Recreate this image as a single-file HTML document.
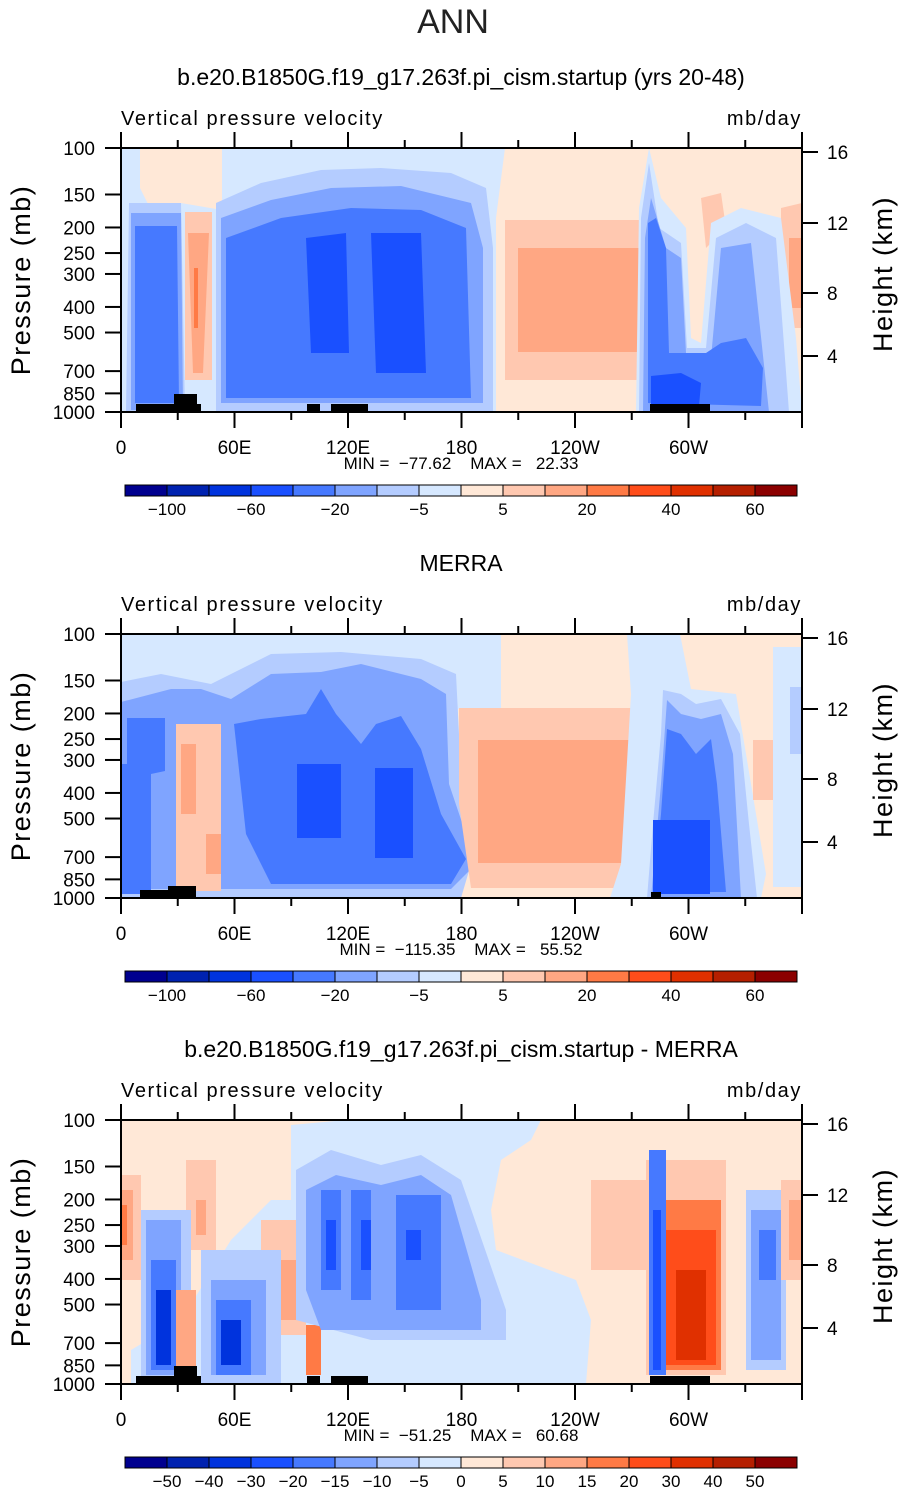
<!DOCTYPE html>
<html><head><meta charset="utf-8"><style>
body{margin:0;background:#fff;}
svg{display:block;font-family:"Liberation Sans","DejaVu Sans",sans-serif;}
</style></head><body>
<svg id="root" width="905" height="1493" viewBox="0 0 905 1493" xmlns="http://www.w3.org/2000/svg">
<text x="453" y="33" font-size="34" text-anchor="middle" fill="#222" font-weight="300">ANN</text>
<g id="panels"></g>
</svg>
<script>
const pressureTicks=[100,150,200,250,300,400,500,700,850,1000];
const heightTicks=[16,12,8,4];
const heightTickY=[4,75,145,208];
const lonTicks=[0,60,120,180,240,300];
const lonLabels=["0","60E","120E","180","120W","60W"];
const colors=["#00008f","#0022b0","#0033dd","#1a50ff","#4679ff","#7fa4ff","#b4ccff","#d6e8ff","#ffe8d7","#ffc8b0","#ffa783","#ff7a45","#ff4d1a","#e03000","#b51f00","#8b0000"];
const levels12=["-100","-60","-20","-5","5","20","40","60"];
const levels3=["-50","-40","-30","-20","-15","-10","-5","0","5","10","15","20","30","40","50"];
const panelTitles=["b.e20.B1850G.f19_g17.263f.pi_cism.startup (yrs 20-48)","MERRA","b.e20.B1850G.f19_g17.263f.pi_cism.startup - MERRA"];
const minVals=["-77.62","-115.35","-51.25"];
const maxVals=["22.33","55.52","60.68"];
const panelTops=[148,634,1120];
const W=681,H=264,X0=121;
const NS="http://www.w3.org/2000/svg";
function xLon(l){return X0+l*W/360;}
function yP(p,top){return top+H*Math.log10(p/100);}
function el(t,a,parent,txt){const e=document.createElementNS(NS,t);for(const k in a)e.setAttribute(k,a[k]);if(txt!==undefined)e.textContent=txt;parent.appendChild(e);return e;}
const C={lb:"#d6e8ff",b1:"#b4ccff",b2:"#7fa4ff",b3:"#4679ff",b4:"#1a50ff",b5:"#0033dd",b6:"#0022b0",pe:"#ffe8d7",s1:"#ffc8b0",s2:"#ffa783",s3:"#ff7a45",s4:"#ff4d1a",s5:"#e03000",s6:"#b51f00",k:"#000"};
function R(c,x1,y1,x2,y2){return [c,[[x1,y1],[x2,y1],[x2,y2],[x1,y2]]];}
const land1=[R("k",15,256,80,264),R("k",53,246,76,264),R("k",186,256,199,264),R("k",210,256,247,264),R("k",529,256,589,264)];
const shapes1=[
["pe",[[19,0],[101,0],[101,62],[60,55],[30,62],[19,40]]],
["pe",[[384,0],[681,0],[681,264],[375,264],[375,70]]],
["b1",[[8,55],[60,55],[64,264],[5,264]]],
["b2",[[10,65],[60,65],[62,262],[10,262]]],
["b3",[[14,78],[56,78],[58,255],[14,255]]],
["s1",[[64,64],[91,64],[91,232],[64,232]]],
["s2",[[67,85],[88,85],[82,225],[72,225]]],
["s3",[[73,120],[77,120],[77,180],[73,180]]],
["b1",[[95,55],[140,35],[200,22],[260,20],[330,25],[365,40],[372,100],[372,264],[95,264]]],
["b2",[[100,70],[150,52],[210,40],[280,38],[350,55],[362,100],[362,255],[100,255]]],
["b3",[[105,90],[160,70],[230,60],[300,62],[345,80],[350,250],[105,250]]],
["b4",[[185,90],[225,85],[228,205],[190,205]]],
["b4",[[250,85],[300,85],[305,225],[255,225]]],
["s1",[[384,72],[524,72],[524,232],[384,232]]],
["s2",[[397,100],[519,100],[519,204],[397,204]]],
["s1",[[660,60],[681,55],[681,180],[660,180]]],
["s2",[[668,90],[681,90],[681,160],[668,160]]],
["s1",[[580,50],[600,45],[605,80],[585,100]]],
["lb",[[515,264],[518,60],[528,0],[540,50],[565,80],[570,190],[580,195],[590,75],[620,60],[660,70],[675,190],[681,264]]],
["b1",[[518,264],[520,70],[528,15],[538,80],[560,95],[566,200],[585,200],[595,90],[625,75],[655,90],[668,264]]],
["b2",[[522,264],[524,90],[530,50],[545,100],[560,110],[565,205],[590,210],[600,100],[630,95],[648,264]]],
["b3",[[527,255],[527,75],[535,70],[545,100],[548,205],[585,205],[600,195],[625,190],[642,220],[640,258]]],
["b4",[[530,228],[560,225],[580,235],[578,258],[530,258]]],
...land1];
const shapes2=[
["pe",[[380,0],[526,0],[526,264],[337,264],[337,75],[380,75]]],
["pe",[[559,0],[681,0],[681,264],[489,264]]],
["b1",[[0,48],[40,40],[90,50],[150,20],[220,18],[300,25],[335,40],[338,100],[350,230],[340,264],[0,264]]],
["b2",[[0,68],[50,55],[80,55],[110,65],[150,40],[200,38],[240,30],[300,45],[325,60],[328,150],[355,230],[330,255],[0,255]]],
["b3",[[6,84],[44,84],[44,137],[30,140],[30,260],[0,260],[0,130],[6,130]]],
["b3",[[113,90],[140,85],[185,80],[200,55],[215,80],[240,110],[255,90],[280,82],[300,115],[320,180],[345,225],[330,250],[150,250],[125,200]]],
["b4",[[176,130],[220,130],[220,204],[176,204]]],
["b4",[[254,134],[292,134],[292,224],[254,224]]],
["s1",[[338,74],[526,74],[526,254],[350,254],[338,170]]],
["s2",[[357,106],[519,106],[519,229],[357,229]]],
["s1",[[55,90],[100,90],[100,257],[55,257]]],
["s2",[[60,110],[75,110],[75,180],[60,180]]],
["s2",[[85,200],[100,200],[100,240],[85,240]]],
["lb",[[506,0],[559,0],[570,55],[615,60],[630,150],[645,240],[640,264],[489,264],[500,230],[510,60]]],
["b1",[[542,56],[560,60],[575,70],[600,65],[619,100],[628,190],[636,264],[526,264],[532,190],[540,100]]],
["b2",[[546,66],[560,80],[580,85],[600,80],[612,120],[620,264],[530,264],[540,150]]],
["b3",[[546,95],[560,100],[575,120],[590,105],[596,150],[605,258],[532,258],[540,180]]],
["b4",[[532,186],[589,186],[589,260],[532,260]]],
["lb",[[652,13],[681,13],[681,253],[652,253]]],
["b1",[[669,53],[681,53],[681,120],[669,120]]],
["s1",[[632,106],[652,106],[652,166],[632,166]]],
R("k",19,256,75,264),R("k",47,252,75,264),R("k",530,258,540,264)];
const shapes3=[
["lb",[[170,5],[225,0],[420,0],[410,20],[380,40],[370,90],[375,130],[455,160],[470,200],[465,264],[10,264],[10,230],[60,200],[110,120],[150,80],[170,80]]],
["s1",[[0,55],[20,55],[20,160],[0,160]]],
["s2",[[0,70],[12,70],[12,140],[0,140]]],
["s3",[[0,85],[6,85],[6,125],[0,125]]],
["s1",[[65,40],[95,40],[95,130],[65,130]]],
["s2",[[75,80],[85,80],[85,115],[75,115]]],
["s1",[[140,100],[185,100],[185,215],[140,215]]],
["s2",[[155,140],[175,140],[175,200],[155,200]]],
["s3",[[185,205],[200,205],[200,255],[185,255]]],
["s1",[[470,60],[525,60],[525,150],[470,150]]],
["b1",[[20,90],[70,90],[70,264],[20,264]]],
["b2",[[25,100],[60,100],[60,255],[25,255]]],
["b3",[[30,140],[55,140],[55,250],[30,250]]],
["b5",[[35,170],[50,170],[50,245],[35,245]]],
["s2",[[55,170],[75,170],[75,250],[55,250]]],
["b1",[[80,130],[160,130],[160,264],[80,264]]],
["b2",[[90,160],[145,160],[145,255],[90,255]]],
["b3",[[95,180],[130,180],[130,255],[95,255]]],
["b5",[[100,200],[120,200],[120,245],[100,245]]],
["b1",[[175,50],[210,30],[260,45],[300,35],[340,60],[385,190],[385,220],[250,220],[175,200]]],
["b2",[[185,70],[215,55],[260,65],[300,55],[330,75],[360,180],[360,210],[200,210],[185,170]]],
["b3",[[200,70],[220,70],[220,170],[200,170]]],
["b3",[[230,70],[250,70],[250,180],[230,180]]],
["b3",[[275,75],[320,75],[320,190],[275,190]]],
["b4",[[205,100],[215,100],[215,150],[205,150]]],
["b4",[[240,100],[250,100],[250,150],[240,150]]],
["b4",[[285,110],[300,110],[300,140],[285,140]]],
["s1",[[525,40],[605,40],[605,255],[525,255]]],
["s3",[[530,80],[600,80],[600,250],[530,250]]],
["s4",[[540,110],[595,110],[595,245],[540,245]]],
["s5",[[555,150],[585,150],[585,240],[555,240]]],
["b3",[[528,30],[545,30],[545,255],[528,255]]],
["b4",[[532,90],[540,90],[540,250],[532,250]]],
["b1",[[625,70],[665,70],[665,250],[625,250]]],
["b2",[[630,90],[660,90],[660,240],[630,240]]],
["b3",[[638,110],[655,110],[655,160],[638,160]]],
["s1",[[660,60],[681,60],[681,160],[660,160]]],
["s2",[[668,80],[681,80],[681,140],[668,140]]],
...land1];
const panelShapes=[shapes1,shapes2,shapes3];
const bases=["lb","lb","pe"];
const cbTops=[485,971,1457];
const root=document.getElementById('panels');
for(let i=0;i<3;i++){
  const top=panelTops[i];
  const g=el('g',{},root);
  
  
  const t=el('text',{x:461,y:top-63,'font-size':23,'text-anchor':'middle',fill:'#000'},g,panelTitles[i]);
  
  
  const vt=el('text',{x:121,y:top-23,'font-size':20,'letter-spacing':'1.6',fill:'#000'},g,'Vertical pressure velocity');
  
  
  const ut=el('text',{x:802,y:top-23,'font-size':20,'letter-spacing':'1.6','text-anchor':'end',fill:'#000'},g,'mb/day');
  
  
  const pl=el('g',{transform:'translate(121,'+top+')'},g);
  
  
  el('rect',{x:0,y:0,width:W,height:H,fill:C[bases[i]]},pl);
  panelShapes[i].forEach(s=>{
    const p=el('polygon',{points:s[1].map(q=>q.join(',')).join(' '),fill:C[s[0]]},pl);
    
    
  });
  const fr=el('rect',{x:121,y:top,width:W,height:H,fill:'none',stroke:'#000','stroke-width':2},g);
  
  
  pressureTicks.forEach(p=>{
    const y=yP(p,top);
    el('line',{x1:105,x2:121,y1:y,y2:y,stroke:'#000','stroke-width':2},g);
    const l=el('text',{x:95,y:y+7,'font-size':19,'text-anchor':'end',fill:'#000'},g,String(p));
    
    
  });
  heightTicks.forEach((h,j)=>{
    const y=top+heightTickY[j];
    el('line',{x1:802,x2:818,y1:y,y2:y,stroke:'#000','stroke-width':2},g);
    const l=el('text',{x:827,y:y+7,'font-size':19,fill:'#000'},g,String(h));
    
    
  });
  for(let l=0;l<=360;l+=30){
    const x=xLon(l),len=(l%60===0)?16:8;
    el('line',{x1:x,x2:x,y1:top+H,y2:top+H+len,stroke:'#000','stroke-width':2},g);
    el('line',{x1:x,x2:x,y1:top,y2:top-len,stroke:'#000','stroke-width':2},g);
  }
  lonTicks.forEach((l,j)=>{
    const tl=el('text',{x:xLon(l),y:top+H+42,'font-size':19,'text-anchor':'middle',fill:'#000'},g,lonLabels[j]);
    
    
  });
  const mm=el('text',{x:461,y:top+H+57,'font-size':17,'text-anchor':'middle',fill:'#000',style:'white-space:pre'},g,'MIN =  '+minVals[i].replace('-','\u2212')+'    MAX =   '+maxVals[i]);
  
  
  const ya=el('text',{transform:'translate(30,'+(top+H/2)+') rotate(-90)','font-size':27,'text-anchor':'middle','letter-spacing':'1.5',fill:'#000'},g,'Pressure (mb)');
  
  
  const ra=el('text',{transform:'translate(892,'+(top+H/2-6)+') rotate(-90)','font-size':27,'text-anchor':'middle','letter-spacing':'1.5',fill:'#000'},g,'Height (km)');
  
  
  const cb=el('g',{},g);
  
  
  const cy=cbTops[i],bw=42;
  colors.forEach((c,k)=>{
    const r=el('rect',{x:125+k*bw,y:cy,width:bw,height:11,fill:c,stroke:'#000','stroke-width':1},cb);
    
    
  });
  const labs=i<2?levels12:levels3;
  labs.forEach((s,k)=>{
    const b=i<2?(1+2*k):(1+k);
    const lt=el('text',{x:125+b*bw,y:cy+30,'font-size':17,'text-anchor':'middle',fill:'#000'},cb,s.replace('-','\u2212'));
    
    
  });
}
</script>
</body></html>
